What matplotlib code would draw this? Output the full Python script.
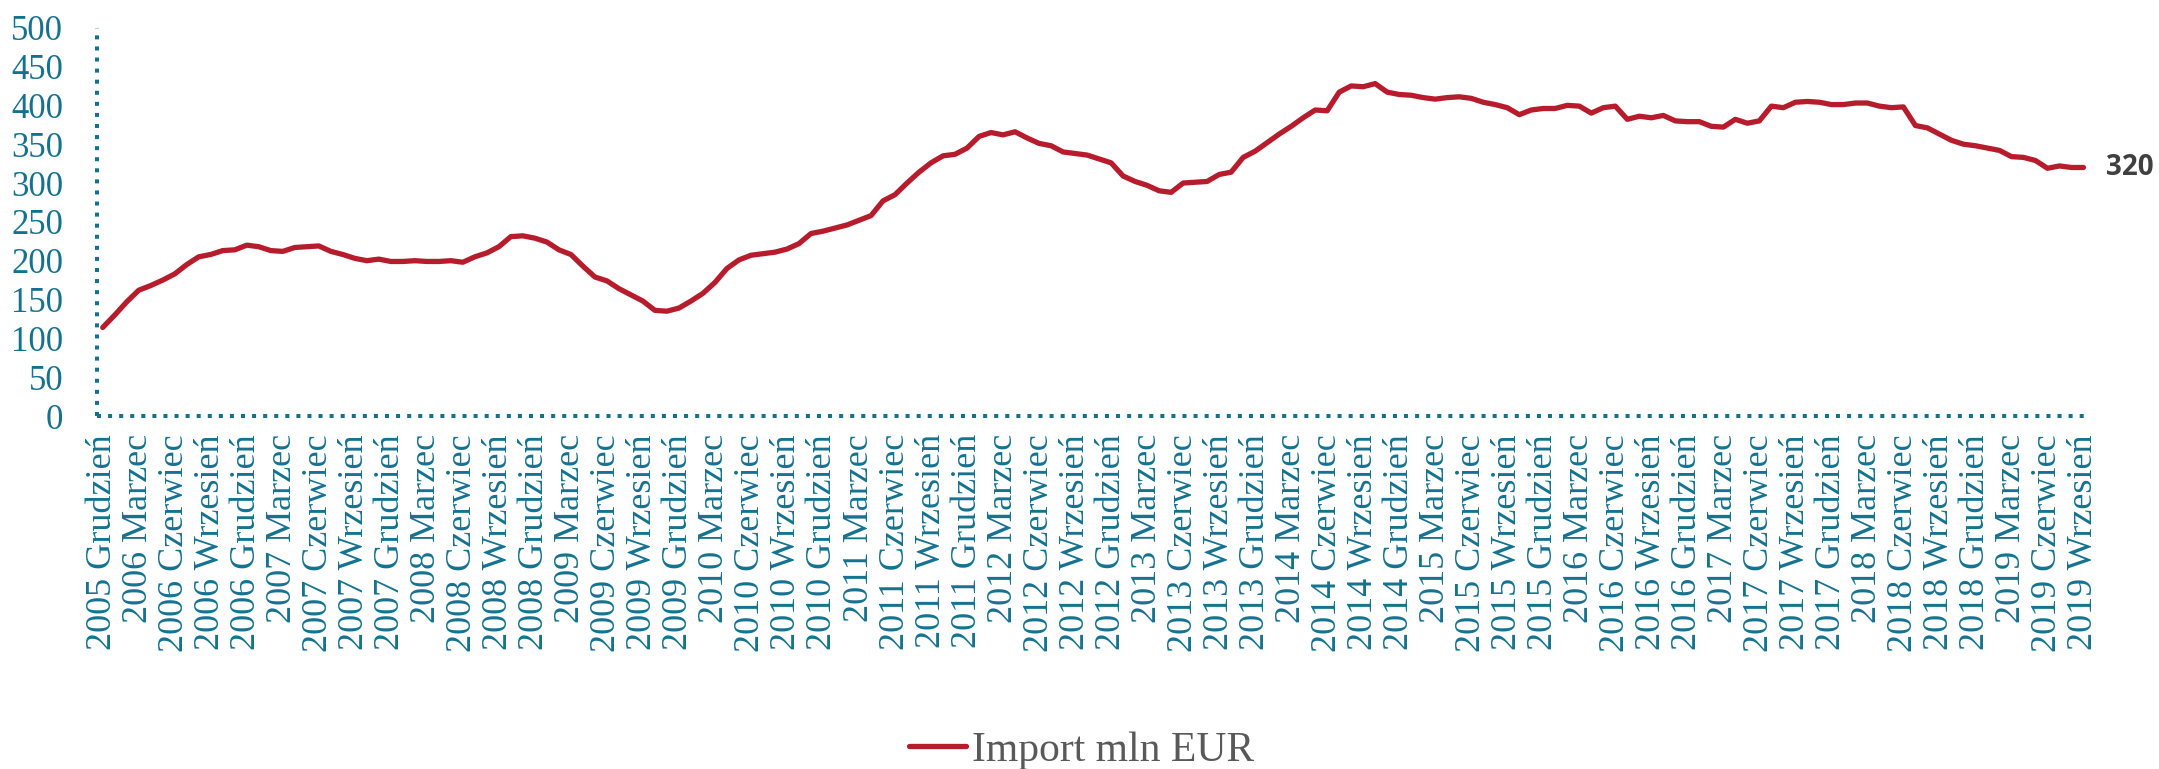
import numpy as np
import matplotlib
matplotlib.use("Agg")
import matplotlib.pyplot as plt

# %% DATA
# monthly import, mln EUR, 2005-12 .. 2019-09
import_values = [
    114, 130, 147, 162, 168, 175, 183, 195, 205, 208, 213, 214,
    220, 218, 213, 212, 217, 218, 219, 212, 208, 203, 200, 202,
    199, 199, 200, 199, 199, 200, 198, 205, 210, 218, 231, 232,
    229, 224, 214, 208, 193, 179, 174, 164, 156, 148, 136, 135,
    139, 148, 158, 172, 190, 201, 207, 209, 211, 215, 222, 235,
    238, 242, 246, 252, 258, 277, 285, 300, 314, 326, 335, 337,
    345, 360, 365, 362, 366, 358, 351, 348, 340, 338, 336, 331,
    326, 309, 302, 297, 290, 288, 300, 301, 302, 311, 314, 333,
    341, 352, 363, 373, 384, 394, 393, 417, 425, 424, 428, 417,
    414, 413, 410, 408, 410, 411, 409, 404, 401, 397, 388, 394,
    396, 396, 400, 399, 390, 397, 399, 382, 386, 384, 387, 380,
    379, 379, 373, 372, 382, 377, 380, 399, 397, 404, 405, 404,
    401, 401, 403, 403, 399, 397, 398, 374, 371, 363, 355, 350,
    348, 345, 342, 334, 333, 329, 319, 322, 320, 320,
]

tick_labels = [
    "2005 Grudzień",
    "2006 Marzec", "2006 Czerwiec", "2006 Wrzesień", "2006 Grudzień",
    "2007 Marzec", "2007 Czerwiec", "2007 Wrzesień", "2007 Grudzień",
    "2008 Marzec", "2008 Czerwiec", "2008 Wrzesień", "2008 Grudzień",
    "2009 Marzec", "2009 Czerwiec", "2009 Wrzesień", "2009 Grudzień",
    "2010 Marzec", "2010 Czerwiec", "2010 Wrzesień", "2010 Grudzień",
    "2011 Marzec", "2011 Czerwiec", "2011 Wrzesień", "2011 Grudzień",
    "2012 Marzec", "2012 Czerwiec", "2012 Wrzesień", "2012 Grudzień",
    "2013 Marzec", "2013 Czerwiec", "2013 Wrzesień", "2013 Grudzień",
    "2014 Marzec", "2014 Czerwiec", "2014 Wrzesień", "2014 Grudzień",
    "2015 Marzec", "2015 Czerwiec", "2015 Wrzesień", "2015 Grudzień",
    "2016 Marzec", "2016 Czerwiec", "2016 Wrzesień", "2016 Grudzień",
    "2017 Marzec", "2017 Czerwiec", "2017 Wrzesień", "2017 Grudzień",
    "2018 Marzec", "2018 Czerwiec", "2018 Wrzesień", "2018 Grudzień",
    "2019 Marzec", "2019 Czerwiec", "2019 Wrzesień",
]
y_ticks = [0, 50, 100, 150, 200, 250, 300, 350, 400, 450, 500]
series_name = "Import mln EUR"

# %% STYLE
teal = "#15728f"
red = "#b71c2c"
serif = "Liberation Serif"

# %% PLOT
fig = plt.figure(figsize=(21.59, 7.69), dpi=100)
ax = fig.add_axes([0.0448, 0.459, 0.923, 0.505])

x = np.arange(len(import_values))
ax.plot(x, import_values, color=red, lw=3.8, solid_capstyle="round",
        solid_joinstyle="round", label=series_name)

ax.set_xlim(-0.5, len(import_values) - 0.5)
ax.set_ylim(0, 500)

ax.set_xticks(x[::3])
ax.set_xticklabels(tick_labels, rotation=90, fontfamily=serif,
                   fontsize=26, color=teal, va="top", ha="center")
ax.set_yticks(y_ticks)
ax.set_yticklabels([str(v) for v in y_ticks], fontfamily=serif,
                   fontsize=25, color=teal)
ax.tick_params(axis="x", length=0, pad=13)
ax.tick_params(axis="y", length=0, pad=24)

for side in ["top", "right"]:
    ax.spines[side].set_visible(False)
for side in ["left", "bottom"]:
    ax.spines[side].set_color(teal)
    ax.spines[side].set_linewidth(2.9)
    ax.spines[side].set_linestyle((0, (1, 1.75)))
    ax.spines[side].set_capstyle("butt")

# last value label
ax.annotate(f"{import_values[-1]:.0f}", (x[-1], import_values[-1]),
            xytext=(16, 0), textcoords="offset points", va="center",
            ha="left", fontsize=20, fontweight="bold", color="#404040",
            fontfamily="Open Sans", annotation_clip=False)

fig.legend(loc="center", bbox_to_anchor=(0.501, 0.024), frameon=False,
           handlelength=1.35, handletextpad=0.15,
           prop={"family": serif, "size": 30}, labelcolor="#595959")

fig.savefig("out.png", dpi=100)
